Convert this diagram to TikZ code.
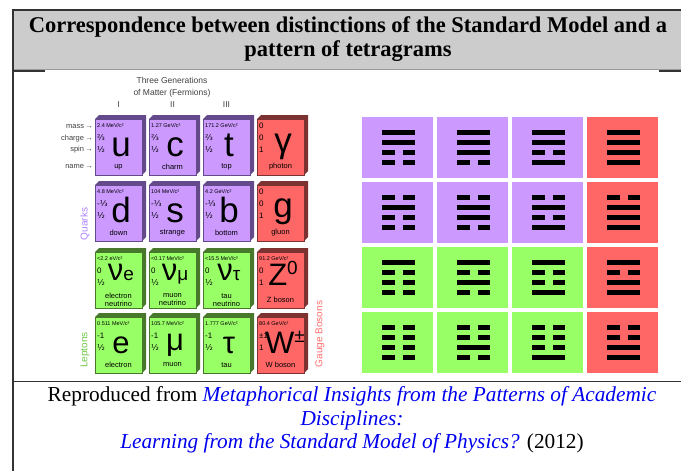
\documentclass[tikz,border=0pt]{standalone}
\usepackage{fontspec}
\setmainfont{Liberation Serif}
\newfontfamily\chartfont{Liberation Sans}
\newfontfamily\fracfont{DejaVu Sans}
\usepackage{xcolor}
\usetikzlibrary{positioning,calc}
\definecolor{quarkfront}{RGB}{204,153,255}
\definecolor{quarkside}{RGB}{100,74,138}
\definecolor{leptonfront}{RGB}{153,255,102}
\definecolor{leptonside}{RGB}{72,120,44}
\definecolor{bosonfront}{RGB}{255,102,102}
\definecolor{bosonside}{RGB}{125,50,50}
\definecolor{quarklabel}{RGB}{170,130,255}
\definecolor{leptonlabel}{RGB}{110,200,70}
\definecolor{bosonlabel}{RGB}{255,110,110}
\definecolor{headgray}{RGB}{204,204,204}
\definecolor{framedark}{RGB}{51,51,51}
\definecolor{linkblue}{RGB}{0,0,238}

\newcommand{\fr}[1]{{\fracfont #1}}
\newcommand{\lowtext}[1]{{\fontsize{19}{19}\selectfont #1}}
\newcommand{\hightext}[1]{\raisebox{11pt}{\fontsize{19}{19}\selectfont #1}}
\newcommand{\lepfont}{\fontsize{31}{31}\selectfont}
\newcommand{\bignum}{\fontsize{8}{8}\selectfont}
% one 3d particle box: name, x, y, family, mass, charge, spin, symbol, label
\newcommand{\particle}[9]{%
  \fill[#4side] (#2,#3) -- ++(4,-4) -- ++(47,0) -- ++(0,56) -- ++(-4,4) -- cycle;
  \node[tile,fill=#4front,draw=#4side] (#1) at (#2+23.5,#3+28) {};
  \node[mass] (#1m) at (#2+2,#3+7) {#5};
  \node[qnum] (#1q) at (#2+2,#3+19) {#6};
  \node[qnum] (#1s) at (#2+2,#3+31) {#7};
  \node[sym] (#1x) at (#2+26,#3+37) {#8};
  \node[pname] (#1n) at (#2+23.5,#3+48) {#9};
}

\begin{document}
\begin{tikzpicture}[x=1pt,y=-1pt,
  tile/.style={rectangle,minimum width=47pt,minimum height=56pt,inner sep=0pt,line width=0.4pt},
  mass/.style={font=\chartfont\fontsize{5.5}{6}\selectfont,inner sep=0pt,anchor=west},
  qnum/.style={font=\chartfont\fontsize{8}{8}\selectfont,inner sep=0pt,anchor=west},
  sym/.style={font=\chartfont\fontsize{35}{35}\selectfont,inner sep=0pt,anchor=base},
  pname/.style={font=\chartfont\fontsize{7.5}{8}\selectfont,inner sep=0pt,align=center},
  axislabel/.style={font=\chartfont\fontsize{7.5}{8}\selectfont,text=black!75,inner sep=0pt},
  grouplabel/.style={font=\chartfont\fontsize{10}{10}\selectfont,rotate=90,inner sep=0pt},
  tetra/.style={rectangle,minimum width=71pt,minimum height=61pt,inner sep=0pt}]
\useasboundingbox (0,0) rectangle (681,471);

% frame and title
\fill[headgray] (13.5,10.5) rectangle (681,69.5);
\draw[framedark,line width=2] (12.5,471) -- (12.5,9.5) -- (681,9.5);
\draw[gray!80,line width=0.8] (13.5,69.5) -- (681,69.5);
\draw[framedark,line width=1.2] (13.5,71) -- (45,71) (659,71) -- (681,71);
\draw[framedark,line width=1] (13.5,381.5) -- (681,381.5);
\draw[framedark,line width=1.6] (13.5,381.5) -- (45,381.5);
\node[font=\bfseries\fontsize{22.5}{23.5}\selectfont,align=center] (title) at (348,39)
  {Correspondence between distinctions of the Standard Model and a\\pattern of tetragrams};

% standard model chart
\node[axislabel,font=\chartfont\fontsize{8.5}{12}\selectfont,align=center] (gens) at (172,87) {Three Generations\\of Matter (Fermions)};
\node[axislabel,font=\chartfont\fontsize{8.5}{8}\selectfont] (gen1) at (118.5,105) {I};
\node[axislabel,font=\chartfont\fontsize{8.5}{8}\selectfont] (gen2) at (172.5,105) {II};
\node[axislabel,font=\chartfont\fontsize{8.5}{8}\selectfont] (gen3) at (226.5,105) {III};
\node[axislabel,anchor=east] (lmass) at (93,127) {mass\,→};
\node[axislabel,anchor=east] (lcharge) at (93,138.5) {charge\,→};
\node[axislabel,anchor=east] (lspin) at (93,150) {spin\,→};
\node[axislabel,anchor=east] (lname) at (93,167) {name\,→};

\particle{up}{95}{119}{quark}{2.4 MeV/c²}{\fr{⅔}}{\fr{½}}{u}{up}
\particle{charm}{149}{119}{quark}{1.27 GeV/c²}{\fr{⅔}}{\fr{½}}{c}{charm}
\particle{top}{203}{119}{quark}{171.2 GeV/c²}{\fr{⅔}}{\fr{½}}{t}{top}
\particle{photon}{257}{119}{boson}{\bignum 0}{0}{1}{\raisebox{4pt}{γ}}{photon}
\particle{down}{95}{185}{quark}{4.8 MeV/c²}{-\fr{⅓}}{\fr{½}}{d}{down}
\particle{strange}{149}{185}{quark}{104 MeV/c²}{-\fr{⅓}}{\fr{½}}{s}{strange}
\particle{bottom}{203}{185}{quark}{4.2 GeV/c²}{-\fr{⅓}}{\fr{½}}{b}{bottom}
\particle{gluon}{257}{185}{boson}{\bignum 0}{0}{1}{\raisebox{5pt}{g}}{gluon}
\particle{nue}{95}{252}{lepton}{<2.2 eV/c²}{0}{\fr{½}}{\lepfont\raisebox{9pt}{ν\lowtext{e}}}{electron\\neutrino}
\particle{numu}{149}{252}{lepton}{<0.17 MeV/c²}{0}{\fr{½}}{\lepfont\raisebox{9pt}{ν\lowtext{μ}}}{muon\\neutrino}
\particle{nutau}{203}{252}{lepton}{<15.5 MeV/c²}{0}{\fr{½}}{\lepfont\raisebox{9pt}{ν\lowtext{τ}}}{tau\\neutrino}
\particle{zboson}{257}{252}{boson}{91.2 GeV/c²}{0}{1}{\lepfont\raisebox{4pt}{Z\hightext{0}}}{Z boson}
\particle{electron}{95}{317}{lepton}{0.511 MeV/c²}{-1}{\fr{½}}{\lepfont\raisebox{1pt}{e}}{electron}
\particle{muon}{149}{317}{lepton}{105.7 MeV/c²}{-1}{\fr{½}}{\lepfont\raisebox{4pt}{μ}}{muon}
\particle{tau}{203}{317}{lepton}{1.777 GeV/c²}{-1}{\fr{½}}{\lepfont\raisebox{1pt}{τ}}{tau}
\particle{wboson}{257}{317}{boson}{80.4 GeV/c²}{±1}{1}{\lepfont\hspace{4pt}\raisebox{1pt}{W\hightext{±}}}{W boson}

\node[grouplabel,text=quarklabel] (quarks) at (85,224) {Quarks};
\node[grouplabel,text=leptonlabel] (leptons) at (85,350) {Leptons};
\node[grouplabel,text=bosonlabel] (bosons) at (320,334) {Gauge Bosons};

% tetragram grid
\foreach \r in {1,...,4}{
  \foreach \c in {1,...,4}{
    \pgfmathsetmacro\cx{397.5+75*(\c-1)}
    \pgfmathsetmacro\cy{147.5+65*(\r-1)}
    \ifnum\c=4 \def\tc{bosonfront}\else\ifnum\r<3 \def\tc{quarkfront}\else\def\tc{leptonfront}\fi\fi
    \node[tetra,fill=\tc] (g\r\c) at (\cx,\cy) {};
    \pgfmathtruncatemacro\la{mod(\r,2)}
    \pgfmathtruncatemacro\lb{\r<3}
    \pgfmathtruncatemacro\lc{mod(\c+1,2)}
    \pgfmathtruncatemacro\ld{\c>2}
    \foreach \k/\s in {0/\la,1/\lb,2/\lc,3/\ld}{
      \pgfmathsetmacro\by{\cy-15.5+10.33*\k}
      \ifnum\s=1
        \fill (\cx-15.5,\by-2.5) rectangle ++(33,5);
      \else
        \fill (\cx-15.5,\by-2.5) rectangle ++(12.5,5);
        \fill (\cx+5,\by-2.5) rectangle ++(12.5,5);
      \fi
    }
  }
}

% source line
\node[font=\fontsize{21.3}{23.5}\selectfont,align=center] (source) at (352,420)
  {Reproduced from \textcolor{linkblue}{\itshape Metaphorical Insights from the Patterns of Academic}\\
   \textcolor{linkblue}{\itshape Disciplines:}\\
   \textcolor{linkblue}{\itshape Learning from the Standard Model of Physics?} (2012)};
\end{tikzpicture}
\end{document}
